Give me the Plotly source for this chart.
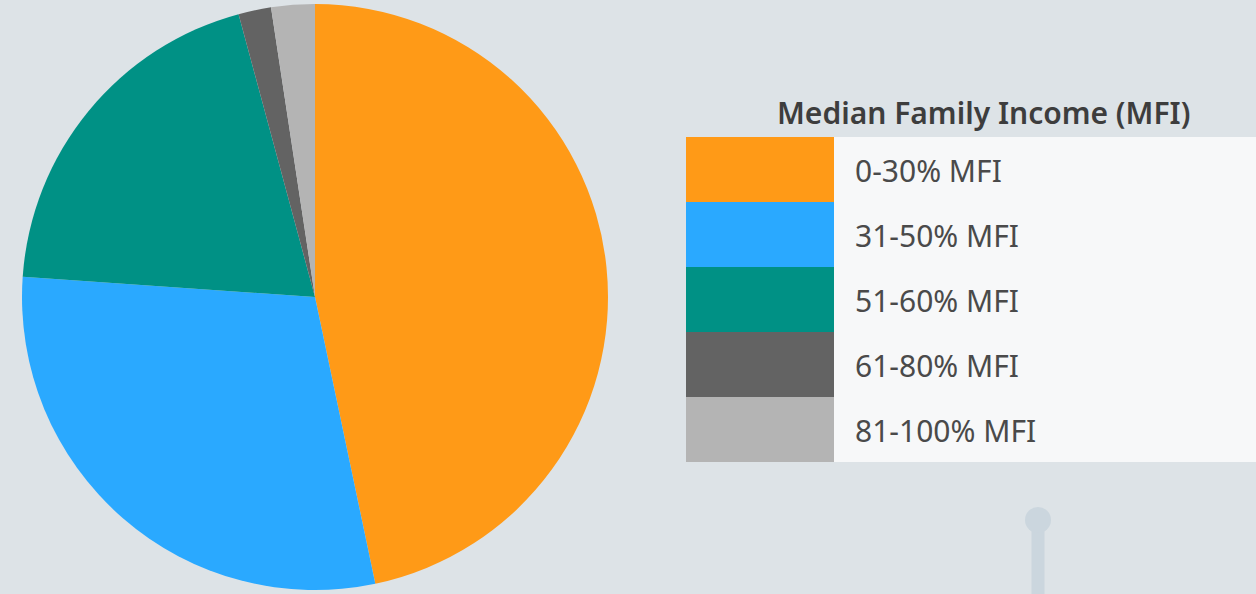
import plotly.graph_objects as go

categories = ["0-30% MFI", "31-50% MFI", "51-60% MFI", "61-80% MFI", "81-100% MFI"]
values = [46.7, 29.4, 19.7, 1.8, 2.4]
colors = ["#ff9a17", "#2aa9ff", "#009185", "#636363", "#b4b4b4"]
legend_title = "Median Family Income (MFI)"

W, H = 1256, 594
BG = "#dde3e7"

fig = go.Figure()
fig.add_trace(go.Pie(
    labels=categories, values=values, sort=False, direction="clockwise", rotation=0,
    marker=dict(colors=colors, line=dict(width=0)),
    textinfo="none", hoverinfo="label+percent",
    domain=dict(x=[22 / W, 608 / W], y=[4 / H, 590 / H]),
    showlegend=False,
))

def px(x): return x / W
def py(y): return 1 - y / H

shapes = []
annotations = []
# decorative pin
shapes.append(dict(type="line", xref="paper", yref="paper", x0=px(1038), x1=px(1038), y0=py(520), y1=py(600),
                   line=dict(color="#cbd6de", width=13), layer="below"))
shapes.append(dict(type="circle", xref="paper", yref="paper", x0=px(1025), x1=px(1051), y0=py(533), y1=py(507),
                   fillcolor="#cbd6de", line=dict(width=0), layer="below"))
# legend panel
top, row_h = 137, 65
shapes.append(dict(type="rect", xref="paper", yref="paper", x0=px(834), x1=px(1256), y0=py(top + row_h * len(categories)), y1=py(top),
                   fillcolor="#f7f8f9", line=dict(width=0)))
for i, (c, col) in enumerate(zip(categories, colors)):
    y0 = top + i * row_h
    shapes.append(dict(type="rect", xref="paper", yref="paper", x0=px(686), x1=px(834), y0=py(y0 + row_h), y1=py(y0),
                       fillcolor=col, line=dict(width=0)))
    annotations.append(dict(text=c, xref="paper", yref="paper", x=px(853), y=py(y0 + row_h / 2 + 1), xanchor="left", yanchor="middle",
                            showarrow=False, font=dict(family="Noto Sans", size=30, color="#4a4a4a")))
annotations.append(dict(text=legend_title, xref="paper", yref="paper", x=px(983), y=py(113), xanchor="center", yanchor="middle",
                        showarrow=False, font=dict(family="Noto Sans", size=30, color="#3d3d3d", weight=600)))

fig.update_layout(width=W, height=H, margin=dict(l=0, r=0, t=0, b=0),
                  paper_bgcolor=BG, plot_bgcolor=BG, shapes=shapes, annotations=annotations)
fig.write_html("out.html", config={"displayModeBar": False},
               post_script="document.body.style.margin='0';document.body.style.overflow='hidden';")
